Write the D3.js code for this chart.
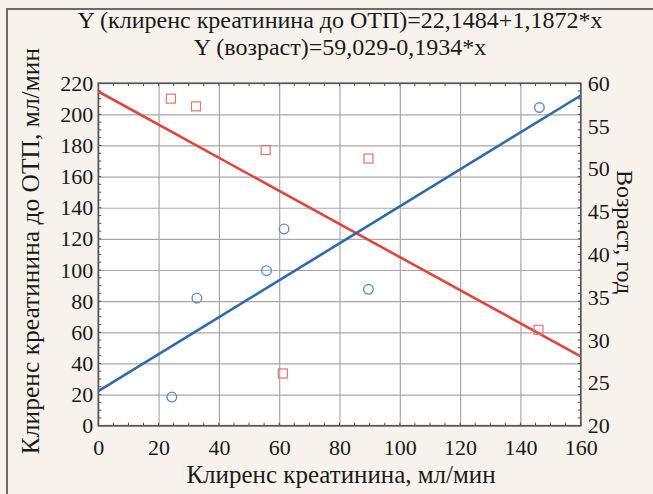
<!DOCTYPE html>
<html lang="ru">
<head>
<meta charset="utf-8"/>
<title>Клиренс креатинина</title>
<style>
  * { margin: 0; padding: 0; }
  body { background: #f7f3ec; }
  svg { display: block; }
  .grid line { stroke: #a8a8a8; stroke-width: 1.2; }
  .grid .domain { display: none; }
</style>
<script src="https://d3js.org/d3.v7.min.js"></script>
</head>
<body>
<svg id="chart" width="653" height="494"></svg>
<script>
// creatinine clearance (x) vs clearance before OTP (left axis)
const clearX = [24.4, 32.7, 55.8, 61.6, 89.6, 146.3];
const clearY = [18.4, 81.9, 99.6, 126.4, 87.6, 204.4];
// creatinine clearance (x) vs age (right axis)
const ageX = [24.1, 32.4, 55.5, 61.2, 89.6, 146.0];
const ageY = [58.2, 57.3, 52.2, 26.1, 51.2, 31.2];
// regression line ends, read at x = 0 and x = 160
const fitX = [0, 160];
const fitClear = [22.15, 212.1];
const fitAge = [59.03, 28.09];

const xTicks = [0, 20, 40, 60, 80, 100, 120, 140, 160];
const leftTicks = [0, 20, 40, 60, 80, 100, 120, 140, 160, 180, 200, 220];
const rightTicks = [20, 25, 30, 35, 40, 45, 50, 55, 60];

const titles = ["Y (клиренс креатинина до ОТП)=22,1484+1,1872*x", "Y (возраст)=59,029-0,1934*x"];

const FONT = "'Liberation Serif', 'DejaVu Serif', serif";
const INK = "#1a1a1a";

const svg = d3.select("#chart");
const W = 653, H = 494;
const mLeft = 98.3, mRight = 580.7, mTop = 83.2, mBottom = 425.7;

// outer frame (top + left edges)
svg.append("path")
  .attr("d", `M7,${H} L7,9 L${W},9`)
  .attr("fill", "none").attr("stroke", "#6b6b6b").attr("stroke-width", 2);

const x = d3.scaleLinear().domain([0, 160]).range([mLeft, mRight]);
const yL = d3.scaleLinear().domain([0, 220]).range([mBottom, mTop]);
const yR = d3.scaleLinear().domain([20, 60]).range([mBottom, mTop]);

// plot background
svg.append("rect")
  .attr("x", mLeft).attr("y", mTop)
  .attr("width", mRight - mLeft).attr("height", mBottom - mTop)
  .attr("fill", "#ffffff");

// grid
svg.append("g").attr("class", "grid")
  .attr("transform", `translate(0,${mBottom})`)
  .call(d3.axisBottom(x).tickValues(xTicks).tickSize(-(mBottom - mTop)).tickFormat(""));
svg.append("g").attr("class", "grid")
  .attr("transform", `translate(${mLeft},0)`)
  .call(d3.axisLeft(yL).tickValues(leftTicks).tickSize(-(mRight - mLeft)).tickFormat(""));

// minor ticks along frame
const minorX = d3.range(0, 161, 5);
const minorY = d3.range(0, 221, 5);
const frameTicks = svg.append("g").attr("stroke", "#555").attr("stroke-width", 1);
frameTicks.selectAll(".mxb").data(minorX).join("line")
  .attr("x1", d => x(d)).attr("x2", d => x(d)).attr("y1", mBottom).attr("y2", mBottom - 3);
frameTicks.selectAll(".mxt").data(minorX).join("line")
  .attr("x1", d => x(d)).attr("x2", d => x(d)).attr("y1", mTop).attr("y2", mTop + 3);
frameTicks.selectAll(".myl").data(minorY).join("line")
  .attr("x1", mLeft).attr("x2", mLeft + 3).attr("y1", d => yL(d)).attr("y2", d => yL(d));
frameTicks.selectAll(".myr").data(minorY).join("line")
  .attr("x1", mRight).attr("x2", mRight - 3).attr("y1", d => yL(d)).attr("y2", d => yL(d));

// frame
svg.append("rect")
  .attr("x", mLeft).attr("y", mTop)
  .attr("width", mRight - mLeft).attr("height", mBottom - mTop)
  .attr("fill", "none").attr("stroke", "#555").attr("stroke-width", 1.6);

// axes labels
const xAxis = svg.append("g").attr("transform", `translate(0,${mBottom})`)
  .call(d3.axisBottom(x).tickValues(xTicks).tickSize(0).tickPadding(14));
const lAxis = svg.append("g").attr("transform", `translate(${mLeft},0)`)
  .call(d3.axisLeft(yL).tickValues(leftTicks).tickSize(0).tickPadding(5));
const rAxis = svg.append("g").attr("transform", `translate(${mRight},0)`)
  .call(d3.axisRight(yR).tickValues(rightTicks).tickSize(0).tickPadding(7));
[xAxis, lAxis, rAxis].forEach(a => {
  a.select(".domain").remove();
  a.selectAll(".tick text")
    .style("font-family", FONT).style("font-size", "22px").style("fill", INK);
});

// regression lines
const lineL = d3.line().x((d, i) => x(fitX[i])).y(d => yL(d));
const lineR = d3.line().x((d, i) => x(fitX[i])).y(d => yR(d));
svg.append("path").attr("d", lineR(fitAge))
  .attr("fill", "none").attr("stroke", "#e0463c").attr("stroke-width", 2.6);
svg.append("path").attr("d", lineL(fitClear))
  .attr("fill", "none").attr("stroke", "#2e6aad").attr("stroke-width", 2.6);

// points
svg.append("g").selectAll("circle").data(clearX).join("circle")
  .attr("cx", d => x(d)).attr("cy", (d, i) => yL(clearY[i])).attr("r", 4.8)
  .attr("fill", "none").attr("stroke", "#5e8fc6").attr("stroke-width", 1.4);
svg.append("g").selectAll("rect").data(ageX).join("rect")
  .attr("x", d => x(d) - 4.5).attr("y", (d, i) => yR(ageY[i]) - 4.5)
  .attr("width", 9).attr("height", 9)
  .attr("fill", "none").attr("stroke", "#e27474").attr("stroke-width", 1.2);

// titles
svg.selectAll(".title").data(titles).join("text")
  .attr("class", "title")
  .attr("x", 340).attr("y", (d, i) => 28 + i * 27)
  .attr("text-anchor", "middle")
  .style("font-family", FONT).style("font-size", "24px").style("fill", INK)
  .text(d => d);

svg.append("text")
  .attr("x", 341).attr("y", 483)
  .attr("text-anchor", "middle")
  .style("font-family", FONT).style("font-size", "25px").style("fill", INK)
  .text("Клиренс креатинина, мл/мин");

svg.append("text")
  .attr("transform", "translate(39,251) rotate(-90)")
  .attr("text-anchor", "middle")
  .style("font-family", FONT).style("font-size", "25.5px").style("fill", INK)
  .text("Клиренс креатинина до ОТП, мл/мин");

svg.append("text")
  .attr("transform", "translate(617,232) rotate(90)")
  .attr("text-anchor", "middle")
  .style("font-family", FONT).style("font-size", "24px").style("fill", INK)
  .text("Возраст, год");
</script>
</body>
</html>
